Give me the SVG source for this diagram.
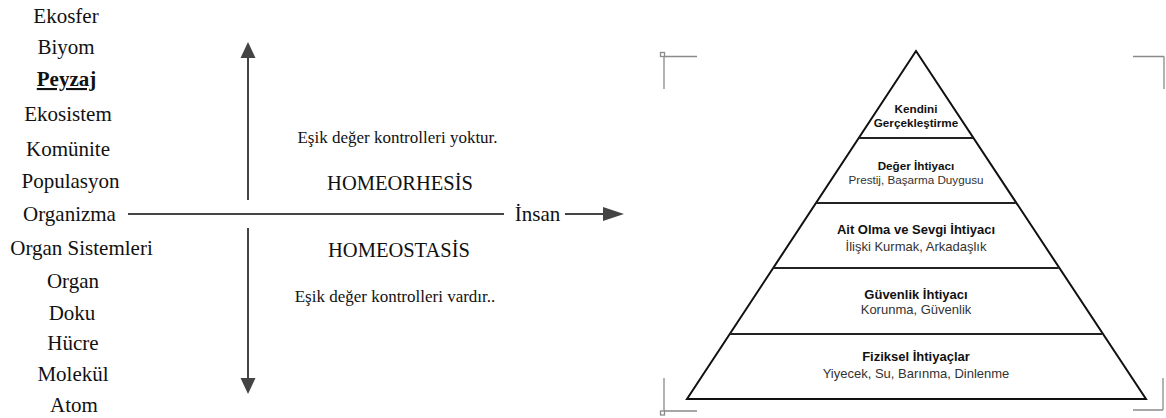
<svg xmlns="http://www.w3.org/2000/svg" width="1166" height="418" viewBox="0 0 1166 418">
<style>
.t{font-family:"Liberation Serif","Times New Roman",serif;font-size:21px;fill:#111;text-anchor:middle}
.h{font-family:"Liberation Serif","Times New Roman",serif;font-size:20.5px;fill:#111;text-anchor:middle}
.s{font-family:"Liberation Serif","Times New Roman",serif;font-size:17px;fill:#111;text-anchor:middle}
.b{font-family:"Liberation Sans",Arial,sans-serif;font-size:11.7px;font-weight:bold;fill:#111;text-anchor:middle}
.r{font-family:"Liberation Sans",Arial,sans-serif;font-size:11.7px;fill:#333;text-anchor:middle}
.big{font-size:13px}
.ln{stroke:#444;stroke-width:2;fill:none}
.ah{fill:#444}
.crop{stroke:#8a8a8a;stroke-width:1.3;fill:none}
.pyr{stroke:#111;stroke-width:2;fill:#fff}
.div{stroke:#222;stroke-width:2}
</style>
<rect width="1166" height="418" fill="#fff"/>
<g id="levels">
<text class="t" x="66" y="22.5">Ekosfer</text>
<text class="t" x="66" y="54">Biyom</text>
<text class="t" x="66.5" y="86" font-weight="bold" text-decoration="underline">Peyzaj</text>
<text class="t" x="68" y="121">Ekosistem</text>
<text class="t" x="68" y="156">Komünite</text>
<text class="t" x="70.5" y="188">Populasyon</text>
<text class="t" x="69.5" y="220.5">Organizma</text>
<text class="t" x="81.5" y="255">Organ Sistemleri</text>
<text class="t" x="73" y="288">Organ</text>
<text class="t" x="72" y="320">Doku</text>
<text class="t" x="73" y="350">Hücre</text>
<text class="t" x="73" y="381">Molekül</text>
<text class="t" x="74" y="412">Atom</text>
</g>
<g id="labels">
<text class="s" x="397.5" y="143">Eşik değer kontrolleri yoktur.</text>
<text class="h" x="400" y="190">HOMEORHESİS</text>
<text class="h" x="399" y="257">HOMEOSTASİS</text>
<text class="s" x="395" y="302">Eşik değer kontrolleri vardır..</text>
<text class="t" x="537.5" y="221">İnsan</text>
</g>
<g id="connectors">
<line class="ln" x1="128" y1="214" x2="504" y2="214"/>
<line class="ln" x1="248" y1="200" x2="248" y2="56"/>
<polygon class="ah" points="248,42 240.5,58 255.5,58"/>
<line class="ln" x1="248" y1="228" x2="248" y2="380"/>
<polygon class="ah" points="248,394 240.5,378 255.5,378"/>
<line class="ln" x1="565" y1="214" x2="605" y2="214"/>
<polygon class="ah" points="624,214 603,207 603,221"/>
</g>
<g id="pyramid">
<polygon class="pyr" points="916,51 687,399 1146,399"/>
<line class="div" x1="858.8" y1="138" x2="973.2" y2="138"/>
<line class="div" x1="816.1" y1="203" x2="1015.9" y2="203"/>
<line class="div" x1="773.3" y1="268" x2="1058.7" y2="268"/>
<line class="div" x1="729.9" y1="334" x2="1102.1" y2="334"/>
</g>
<g id="level5">
<text class="b" x="916" y="113">Kendini</text>
<text class="b" x="916" y="127">Gerçekleştirme</text>
</g>
<g id="level4">
<text class="b" x="916" y="170">Değer İhtiyacı</text>
<text class="r" x="916" y="184">Prestij, Başarma Duygusu</text>
</g>
<g id="level3">
<text class="b big" x="916" y="233.5">Ait Olma ve Sevgi İhtiyacı</text>
<text class="r big" x="916" y="250.5">İlişki Kurmak, Arkadaşlık</text>
</g>
<g id="level2">
<text class="b big" x="916" y="298.5">Güvenlik İhtiyacı</text>
<text class="r big" x="916" y="313.5">Korunma, Güvenlik</text>
</g>
<g id="level1">
<text class="b big" x="916" y="360.5">Fiziksel İhtiyaçlar</text>
<text class="r big" x="916" y="377.5">Yiyecek, Su, Barınma, Dinlenme</text>
</g>
<g id="cropmarks">
<path class="crop" d="M664,56.5 H697 M664,56.5 V89"/>
<rect class="crop" x="660.5" y="52.5" width="4" height="4"/>
<path class="crop" d="M1133,56.5 H1164 M1164,56.5 V89"/>
<path class="crop" d="M664,378 V411 M664,411 H697"/>
<rect class="crop" x="660.5" y="411" width="4" height="4"/>
<path class="crop" d="M1133,410 H1163 M1163,378 V410"/>
</g>
</svg>
